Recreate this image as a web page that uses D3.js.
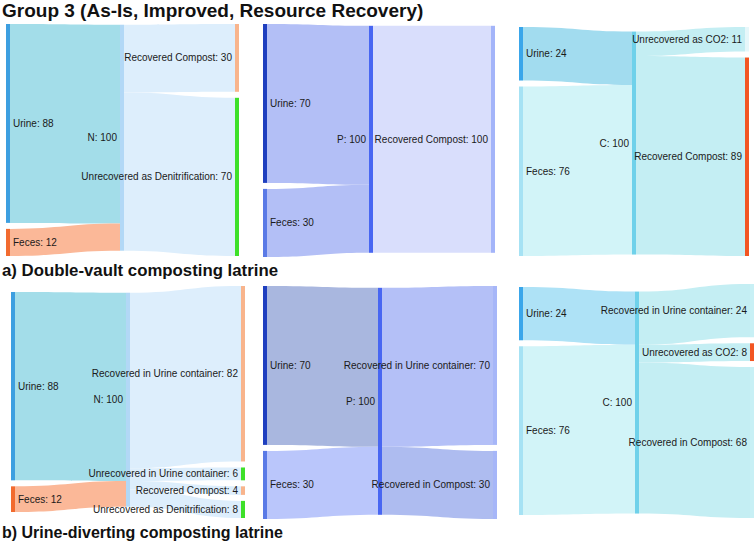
<!DOCTYPE html>
<html>
<head>
<meta charset="utf-8">
<script src="https://cdn.jsdelivr.net/npm/d3@7"></script>
<style>
  body { margin: 0; background: #fff; }
  text { font-family: Helvetica, Arial, 'Liberation Sans', sans-serif; }
</style>
</head>
<body>
<svg id="visArea" width="756" height="544"></svg>
<script>
// inputs to each hub node (same sources in both latrines)
const sourceNames = ['Urine', 'Feces']
const nInputs = [88, 12]
const pInputs = [70, 30]
const cInputs = [24, 76]

// a) Double-vault composting latrine
const nOutputsA = ['Recovered Compost', 'Unrecovered as Denitrification']
const nValuesA = [30, 70]
const pOutputsA = ['Recovered Compost']
const pValuesA = [100]
const cOutputsA = ['Unrecovered as CO2', 'Recovered Compost']
const cValuesA = [11, 89]

// b) Urine-diverting composting latrine
const nOutputsB = ['Recovered in Urine container', 'Unrecovered in Urine container', 'Recovered Compost', 'Unrecovered as Denitrification']
const nValuesB = [82, 6, 4, 8]
const pOutputsB = ['Recovered in Urine container', 'Recovered in Compost']
const pValuesB = [70, 30]
const cOutputsB = ['Recovered in Urine container', 'Unrecovered as CO2', 'Recovered in Compost']
const cValuesB = [24, 8, 68]

// colours
const nStyle = {
  inNodes: ['#3d9fe0', '#f26b2f'], hubNode: '#b2d8f6',
  inLinks: ['#a3dde9', '#fbb898'], outLinks: '#ddeefc'
}
const pStyle = {
  inNodes: ['#1f3fbf', '#5a7ae6'], hubNode: '#4866f2'
}
const cStyle = {
  inNodes: ['#3aa6ea', '#a6e2f4'], hubNode: '#6fd1ea', inLinks: ['#a2dcef', '#d2f4f8'], outLinks: '#c4eef3'
}

const panels = [
  { hub: 'N', inputs: nInputs, outputs: nOutputsA, values: nValuesA, cols: [6, 120, 235], y: [24, 256],
    style: { ...nStyle, outNodes: ['#f8b48c', '#3ee029'] } },
  { hub: 'P', inputs: pInputs, outputs: pOutputsA, values: pValuesA, cols: [263, 369, 491], y: [24, 257],
    style: { ...pStyle, inLinks: ['#b3bff6', '#b3bff6'], outLinks: '#d9defc', outNodes: ['#a3b4f9'] } },
  { hub: 'C', inputs: cInputs, outputs: cOutputsA, values: cValuesA, cols: [519, 632, 745], y: [27, 256],
    style: { ...cStyle, outNodes: ['#e6f7fa', '#f25522'] } },
  { hub: 'N', inputs: nInputs, outputs: nOutputsB, values: nValuesB, cols: [11, 126, 241], y: [286, 518],
    style: { ...nStyle, outNodes: ['#f8b48c', '#3ee029', '#f8b48c', '#3ee029'] } },
  { hub: 'P', inputs: pInputs, outputs: pOutputsB, values: pValuesB, cols: [263, 378, 493], y: [286, 519],
    style: { ...pStyle, inLinks: ['#a9b7df', '#bac6fb'], outLinks: ['#b4c0f7', '#aebcf0'], outNodes: ['#a6b6f8', '#a6b6f8'] } },
  { hub: 'C', inputs: cInputs, outputs: cOutputsB, values: cValuesB, cols: [519, 635, 750], y: [284, 518],
    style: { ...cStyle, inLinks: ['#aee2f6', '#d2f4f8'], outNodes: ['#c8f0f5', '#f25522', '#c8f0f5'] } }
]

const svg = d3.select('#visArea')
const pad = 6
const nodeW = 4

function band(xs, ys, xt, yt, w) {
  const xm = (xs + xt) / 2
  const p = d3.path()
  p.moveTo(xs, ys)
  p.bezierCurveTo(xm, ys, xm, yt, xt, yt)
  p.lineTo(xt, yt + w)
  p.bezierCurveTo(xm, yt + w, xm, ys + w, xs, ys + w)
  p.closePath()
  return p.toString()
}

function stack(vals, top, ky) {
  let y = top
  return vals.map(v => {
    const n = { y0: y, y1: y + ky(v) }
    y = n.y1 + pad
    return n
  })
}

function drawPanel(p) {
  const g = svg.append('g')
  const x = d3.scaleOrdinal().domain([0, 1, 2]).range(p.cols)
  const total = d3.sum(p.inputs)
  const columns = [p.inputs, [total], p.values]
  const h = p.y[1] - p.y[0]
  const k = d3.min(columns, c => (h - (c.length - 1) * pad) / d3.sum(c))
  const ky = d3.scaleLinear().domain([0, 1]).range([0, k])
  const colH = c => ky(d3.sum(c)) + (c.length - 1) * pad
  const asOfs = s => (typeof s === 'string' ? p.outputs.map(() => s) : s)

  const left = stack(p.inputs, p.y[0] + (h - colH(p.inputs)) / 2, ky)
  const centre = d3.sum(left, (n, i) => (n.y0 + n.y1) / 2 * p.inputs[i]) / total
  const hy0 = Math.max(p.y[0], Math.min(p.y[1] - ky(total), centre - ky(total) / 2))
  const hub = { y0: hy0, y1: hy0 + ky(total) }
  const rh = colH(p.values)
  const rTop = Math.max(p.y[0], Math.min(p.y[1] - rh, (hub.y0 + hub.y1) / 2 - rh / 2))
  const right = stack(p.values, rTop, ky)

  // links into hub
  let yIn = hub.y0
  const inLinks = p.inputs.map((v, i) => {
    const l = { d: band(x(0) + nodeW, left[i].y0, x(1), yIn, ky(v)), color: p.style.inLinks[i] }
    yIn += ky(v)
    return l
  })
  let yOut = hub.y0
  const outColors = asOfs(p.style.outLinks)
  const outLinks = p.values.map((v, i) => {
    const l = { d: band(x(1) + nodeW, yOut, x(2), right[i].y0, ky(v)), color: outColors[i] }
    yOut += ky(v)
    return l
  })

  g.append('g')
    .selectAll('path')
    .data(inLinks.concat(outLinks))
    .join('path')
    .attr('d', d => d.d)
    .attr('fill', d => d.color)

  const nodes = []
  left.forEach((n, i) => nodes.push({ ...n, col: 0, label: `${sourceNames[i]}: ${p.inputs[i]}`, color: p.style.inNodes[i] }))
  nodes.push({ ...hub, col: 1, label: `${p.hub}: ${total}`, color: p.style.hubNode })
  right.forEach((n, i) => nodes.push({ ...n, col: 2, label: `${p.outputs[i]}: ${p.values[i]}`, color: p.style.outNodes[i] }))

  g.append('g')
    .selectAll('rect')
    .data(nodes)
    .join('rect')
    .attr('x', d => x(d.col))
    .attr('y', d => d.y0)
    .attr('width', nodeW)
    .attr('height', d => d.y1 - d.y0)
    .attr('fill', d => d.color)

  g.append('g')
    .selectAll('text')
    .data(nodes)
    .join('text')
    .attr('x', d => d.col === 0 ? x(0) + nodeW + 3 : x(d.col) - 3)
    .attr('y', d => (d.y0 + d.y1) / 2)
    .attr('dy', '0.35em')
    .attr('text-anchor', d => d.col === 0 ? 'start' : 'end')
    .attr('font-size', 10)
    .attr('fill', '#1a1a1a')
    .text(d => d.label)
}

panels.forEach(drawPanel)

svg.append('text')
  .attr('x', 2).attr('y', 17)
  .attr('font-size', 19).attr('font-weight', 'bold').attr('fill', '#111')
  .text('Group 3 (As-Is, Improved, Resource Recovery)')

svg.append('text')
  .attr('x', 2).attr('y', 276)
  .attr('font-size', 16.8).attr('font-weight', 'bold').attr('fill', '#111')
  .text('a) Double-vault composting latrine')

svg.append('text')
  .attr('x', 2).attr('y', 538)
  .attr('font-size', 16).attr('font-weight', 'bold').attr('fill', '#111')
  .text('b) Urine-diverting composting latrine')
</script>
</body>
</html>
